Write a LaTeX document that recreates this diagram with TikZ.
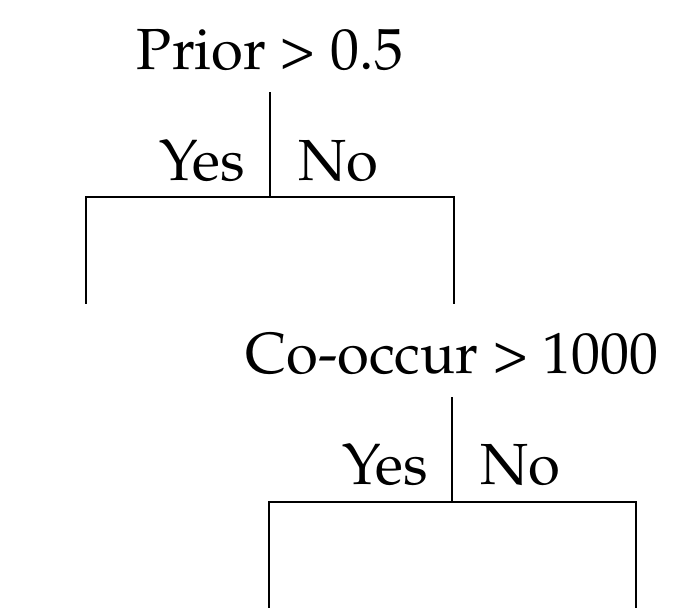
\documentclass[tikz,border=0pt]{standalone}
\usepackage[T1]{fontenc}
\usepackage{mathpazo}
\begin{document}
\begin{tikzpicture}[x=1pt,y=-1pt,
  lbl/.style={inner sep=0pt,font=\fontsize{58}{60}\selectfont},
  branch/.style={line width=2.6pt,line cap=rect}]
\useasboundingbox (0,0) rectangle (700,610);
% first split
\node[lbl,anchor=base] (prior) at (270,69) {Prior \textgreater{} 0.5};
\coordinate (t1) at (270,93);
\coordinate (j1) at (270,197);
\coordinate (l1) at (86,197);
\coordinate (r1) at (454,197);
\coordinate (l1e) at (86,303);
\coordinate (r1e) at (454,303);
\node[lbl,anchor=base east] (yes1) at (245,180) {Yes};
\node[lbl,anchor=base west] (no1) at (298,180) {No};
\draw[branch] (t1) -- (j1);
\draw[branch] (l1e) -- (l1) -- (r1) -- (r1e);
% second split
\node[lbl,anchor=base] (cooc) at (452,373) {Co-occur \textgreater{} 1000};
\coordinate (t2) at (452,398);
\coordinate (j2) at (452,502);
\coordinate (l2) at (269,502);
\coordinate (r2) at (636,502);
\coordinate (l2e) at (269,607);
\coordinate (r2e) at (636,607);
\node[lbl,anchor=base east] (yes2) at (428,484) {Yes};
\node[lbl,anchor=base west] (no2) at (480,484) {No};
\draw[branch] (t2) -- (j2);
\draw[branch] (l2e) -- (l2) -- (r2) -- (r2e);
\end{tikzpicture}
\end{document}
